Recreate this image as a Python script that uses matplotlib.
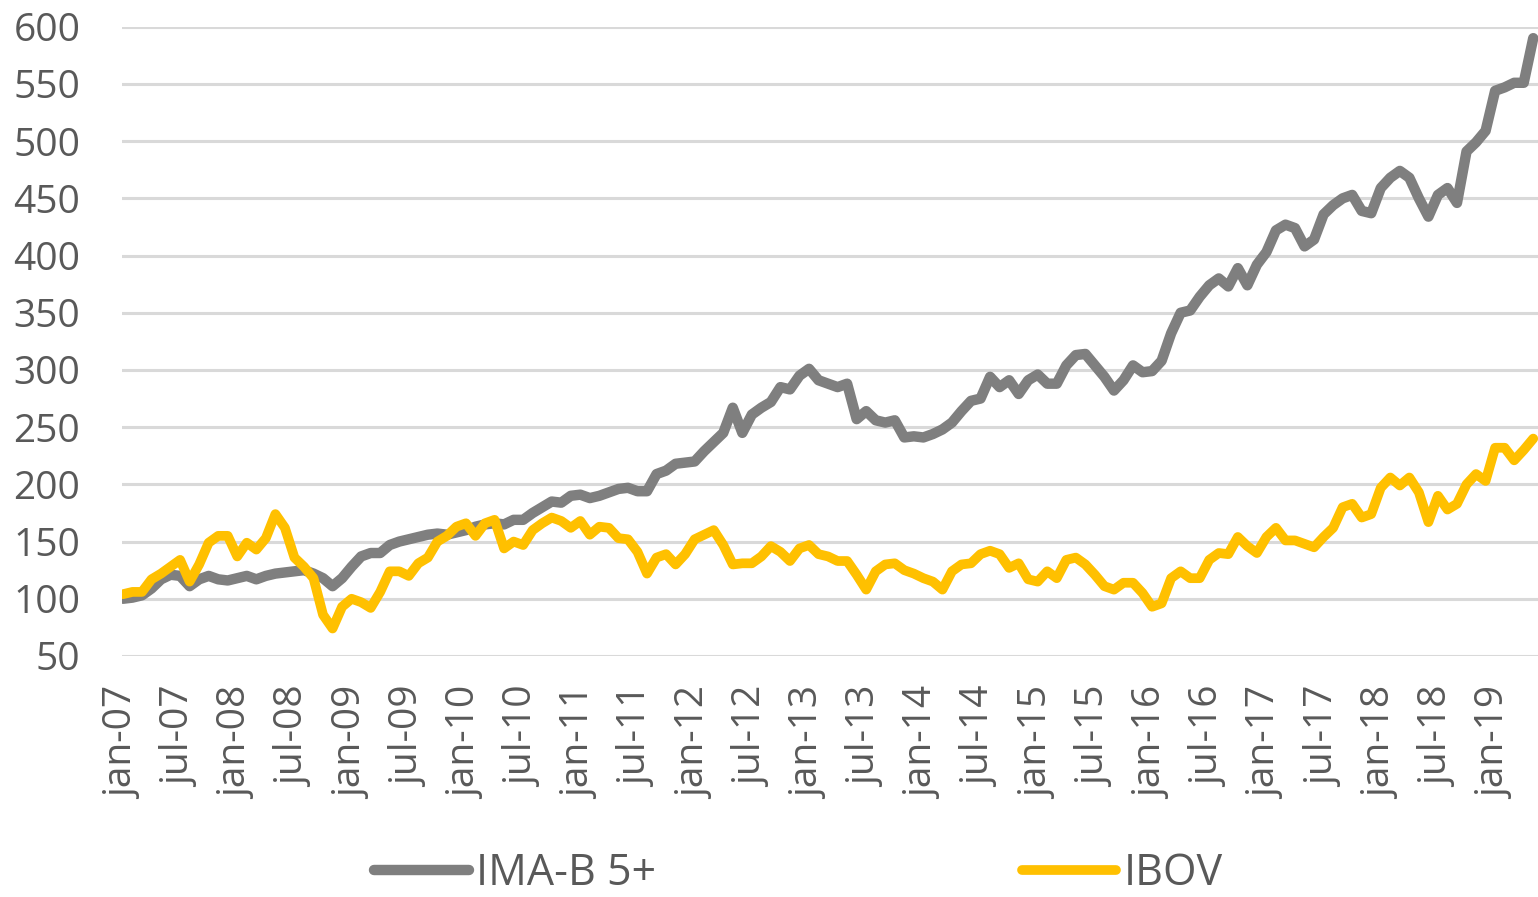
import numpy as np
import matplotlib
matplotlib.use("Agg")
import matplotlib.pyplot as plt

plt.rcParams['font.family'] = ['Open Sans', 'DejaVu Sans']

# monthly values, jan-07 .. may-19
ima_b5 = [100, 101, 103, 109, 117, 121, 120, 111, 117, 120, 117, 116,
          118, 120, 117, 120, 122, 123, 124, 125, 122, 118, 111, 118,
          128, 137, 140, 140, 147, 150, 152, 154, 156, 157, 156, 158,
          160, 163, 165, 166, 165, 169, 169, 175, 180, 185, 184, 190,
          191, 188, 190, 193, 196, 197, 194, 194, 209, 212, 218, 219,
          220, 229, 237, 245, 267, 245, 261, 267, 272, 285, 283, 295,
          301, 291, 288, 285, 288, 257, 264, 256, 254, 256, 241, 242,
          241, 244, 248, 254, 264, 273, 275, 294, 285, 291, 279, 291,
          296, 288, 288, 304, 313, 314, 304, 294, 282, 291, 304, 298,
          299, 308, 332, 350, 352, 364, 374, 380, 373, 389, 374, 392,
          403, 422, 427, 424, 408, 414, 436, 444, 450, 453, 439, 437,
          459, 468, 474, 468, 450, 434, 453, 459, 446, 491, 499, 509,
          544, 547, 551, 551, 590]
ibov = [104, 106, 106, 117, 122, 128, 134, 115, 130, 149, 155, 155,
        137, 149, 143, 153, 174, 162, 136, 128, 118, 86, 74, 93,
        100, 97, 92, 106, 124, 124, 120, 131, 136, 150, 155, 163,
        166, 155, 166, 169, 144, 150, 147, 160, 166, 171, 168, 162,
        168, 156, 163, 162, 153, 152, 141, 122, 136, 139, 130, 139,
        152, 156, 160, 147, 130, 131, 131, 137, 146, 141, 133, 144,
        147, 139, 137, 133, 133, 121, 108, 124, 130, 131, 125, 122,
        118, 115, 108, 124, 130, 131, 139, 142, 139, 127, 131, 117,
        115, 124, 118, 134, 136, 130, 121, 111, 108, 114, 114, 105,
        93, 96, 118, 124, 118, 118, 134, 140, 139, 154, 146, 140,
        154, 162, 151, 151, 148, 145, 154, 162, 180, 183, 171, 174,
        197, 206, 199, 206, 193, 167, 190, 178, 183, 200, 209, 203,
        232, 232, 221, 230, 240]
tick_labels = ['jan-07', 'jul-07', 'jan-08', 'jul-08', 'jan-09', 'jul-09',
               'jan-10', 'jul-10', 'jan-11', 'jul-11', 'jan-12', 'jul-12',
               'jan-13', 'jul-13', 'jan-14', 'jul-14', 'jan-15', 'jul-15',
               'jan-16', 'jul-16', 'jan-17', 'jul-17', 'jan-18', 'jul-18',
               'jan-19']

months = np.arange(len(ima_b5))

fig = plt.figure(figsize=(15.38, 8.97), dpi=100)
ax = fig.add_axes([0.0793, 0.2687, 0.9207, 0.7015])

ax.plot(months, ima_b5, color='#7f7f7f', lw=7.5, solid_joinstyle='round',
        solid_capstyle='round', label='IMA-B 5+', zorder=3)
ax.plot(months, ibov, color='#ffc000', lw=7.0, solid_joinstyle='round',
        solid_capstyle='round', label='IBOV', zorder=3)

ax.set_xlim(-0.1, 148.5)
ax.set_ylim(50, 600)
ax.set_yticks(range(50, 601, 50))
ax.set_xticks(np.arange(0, 6 * len(tick_labels), 6))
ax.set_xticklabels(tick_labels, rotation=90, va='top', ha='center')

ax.grid(axis='y', color='#d9d9d9', lw=2.2)
ax.set_axisbelow(True)
for s in ax.spines.values():
    s.set_visible(False)
ax.tick_params(axis='y', length=0, pad=30, labelsize=28, labelcolor='#595959')
ax.tick_params(axis='x', length=0, pad=22, labelsize=28, labelcolor='#595959')

fig.legend(loc='center', bbox_to_anchor=(0.519, 0.026), ncol=2, frameon=False,
           fontsize=31, labelcolor='#595959', handlelength=2.2,
           handletextpad=0.16, columnspacing=8.5)

fig.savefig('out.png', dpi=100)
